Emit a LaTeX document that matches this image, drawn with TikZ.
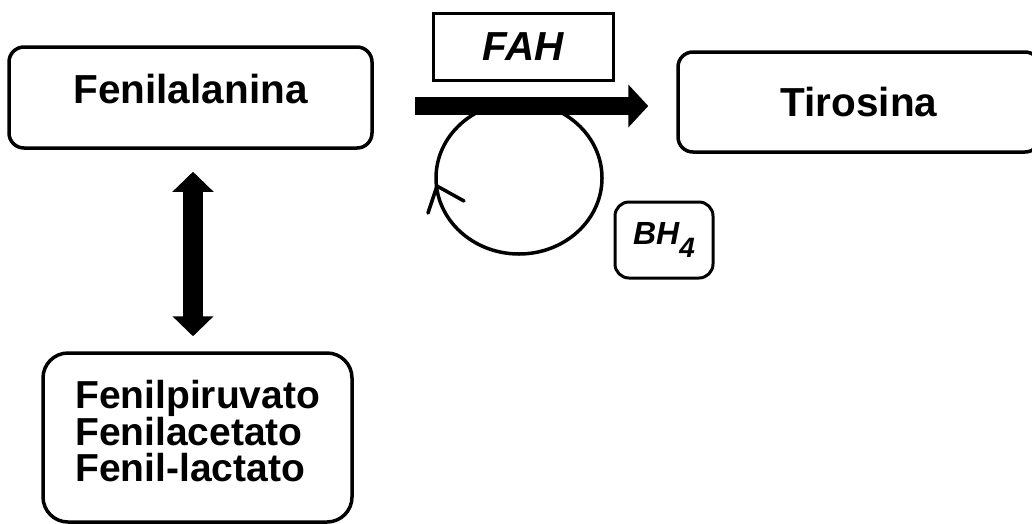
\documentclass[tikz,border=0pt]{standalone}
\usepackage{fontspec}
\setmainfont{Liberation Sans}
\usetikzlibrary{arrows.meta}
\newcommand{\bigfnt}{\fontsize{40.5}{44}\selectfont\bfseries}
\begin{document}
\begin{tikzpicture}[x=1pt,y=-1pt,
  roundbox/.style={draw, line width=3.5pt, rounded corners=15pt, inner sep=0pt, font=\bigfnt},
  thinbox/.style={draw, line width=3pt, inner sep=0pt},
  fatarrow/.style={line width=18pt, -{Triangle[length=20pt,width=42pt]}},
  dblarrow/.style={line width=20pt, {Triangle[length=20pt,width=40pt]}-{Triangle[length=20pt,width=40pt]}},
  loopline/.style={line width=3.5pt}]
\useasboundingbox (0,0) rectangle (1032,523);
\clip (0,0) rectangle (1032,523);
\fill[white] (0,0) rectangle (1032,523);

\node[roundbox, minimum width=363pt, minimum height=101pt, text height=31.6pt, text depth=20pt] (fen) at (190.5,97.5) {Fenilalanina};
\node[roundbox, minimum width=362pt, minimum height=100pt] (tir) at (859,102) {Tirosina};
\node[thinbox, minimum width=180pt, minimum height=67pt, font=\bigfnt\itshape] (fah) at (523,46.5) {FAH};
\node[thinbox, rounded corners=14pt, minimum width=98pt, minimum height=76pt, font=\fontsize{32}{34}\selectfont\bfseries\itshape] (bh) at (664,240) {BH\raisebox{-13pt}{\fontsize{28}{28}\selectfont 4}};
\node[roundbox, rounded corners=25pt, minimum width=309pt, minimum height=169pt] (prod) at (197.5,437.5) {};
\node[anchor=north west, inner sep=0pt, align=left, font=\fontsize{39}{36}\selectfont\bfseries] (prodtxt) at (75,380) {Fenilpiruvato\\Fenilacetato\\Fenil-lactato};

% cofactor loop
\coordinate (loopc) at (519,178);
\draw[loopline] (loopc) ellipse [x radius=83pt, y radius=76pt];
\coordinate (tip) at (437,186);
\draw[loopline, line cap=round] (tip) -- ++(-9,27);
\draw[loopline, line cap=round] (tip) -- ++(27,15);

% main reaction arrow
\draw[fatarrow] ([xshift=41pt,yshift=-8.5pt]fen.east) -- ([xshift=-28pt,yshift=-4pt]tir.west);
% equilibrium arrow
\draw[dblarrow] ([xshift=2.5pt,yshift=-22pt]fen.south) -- ([xshift=-4.5pt,yshift=15pt]prod.north);
\end{tikzpicture}
\end{document}
